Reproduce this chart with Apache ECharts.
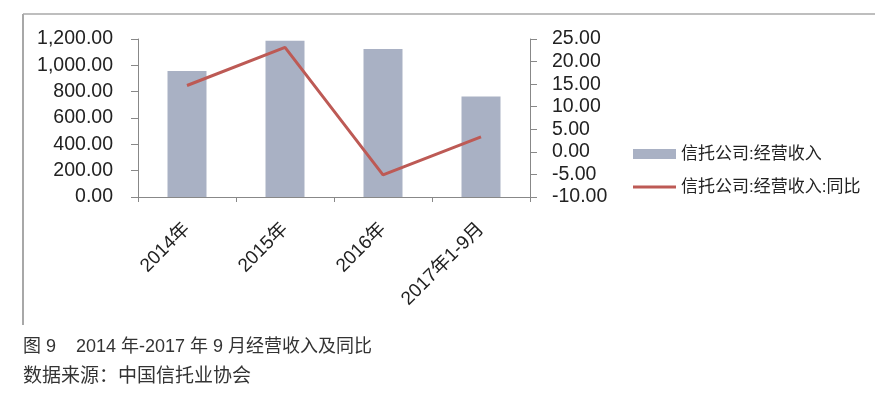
<!DOCTYPE html>
<html>
<head>
<meta charset="utf-8">
<script src="https://cdn.jsdelivr.net/npm/echarts@6/dist/echarts.min.js"></script>
<style>
html,body{margin:0;padding:0;background:#fff;}
#c{width:875px;height:414px;}
</style>
</head>
<body>
<div id="c"></div>
<script>
var categories = ['2014年', '2015年', '2016年', '2017年1-9月'];
var revenue = [957, 1187, 1124, 764];
var growth = [14.7, 23.15, -5.1, 3.3];
var leftTicks = { min: 0, max: 1200, interval: 200 };
var rightTicks = { min: -10, max: 25, interval: 5 };
var seriesNames = ['信托公司:经营收入', '信托公司:经营收入:同比'];
var captionLine1 = '图 9    2014 年-2017 年 9 月经营收入及同比';
var captionLine2 = '数据来源：中国信托业协会';

var FONT = '"Liberation Sans", "Noto Sans CJK SC", sans-serif';
var legendText = { fontSize: 17, color: '#222', fontFamily: FONT, lineHeight: 20 };
var chart = echarts.init(document.getElementById('c'), null, { renderer: 'canvas' });
chart.setOption({
  animation: false,
  backgroundColor: '#ffffff',
  grid: { left: 138, right: 345, top: 39, height: 158 },
  legend: [
    {
      orient: 'vertical', left: 628, top: 139,
      itemWidth: 43, itemHeight: 10,
      textStyle: legendText,
      data: [{ name: seriesNames[0], icon: 'rect' }]
    },
    {
      orient: 'vertical', left: 628, top: 172,
      itemWidth: 43, itemHeight: 3,
      textStyle: legendText,
      data: [{ name: seriesNames[1], icon: 'rect', itemStyle: { color: '#bd5a55' } }]
    }
  ],
  xAxis: {
    type: 'category',
    data: categories,
    boundaryGap: true,
    axisLine: { show: true, lineStyle: { color: '#888', width: 1 } },
    axisTick: { show: true, alignWithLabel: false, length: 5, lineStyle: { color: '#888' } },
    axisLabel: { rotate: 45, margin: 29, fontSize: 19, color: '#222', fontFamily: FONT, interval: 0 },
    splitLine: { show: false }
  },
  yAxis: [
    {
      type: 'value',
      min: leftTicks.min, max: leftTicks.max, interval: leftTicks.interval,
      position: 'left',
      axisLine: { show: true, lineStyle: { color: '#888', width: 1 } },
      axisTick: { show: true, inside: false, length: 7, lineStyle: { color: '#888' } },
      axisLabel: {
        margin: 25, fontSize: 19.5, color: '#222', fontFamily: FONT,
        formatter: function (v) { return v.toLocaleString('en-US', { minimumFractionDigits: 2, maximumFractionDigits: 2 }); }
      },
      splitLine: { show: false }
    },
    {
      type: 'value',
      min: rightTicks.min, max: rightTicks.max, interval: rightTicks.interval,
      position: 'right',
      axisLine: { show: true, lineStyle: { color: '#888', width: 1 } },
      axisTick: { show: true, inside: false, length: 7, lineStyle: { color: '#888' } },
      axisLabel: {
        margin: 22, fontSize: 19.5, color: '#222', fontFamily: FONT,
        formatter: function (v) { return v.toFixed(2); }
      },
      splitLine: { show: false }
    }
  ],
  series: [
    {
      name: seriesNames[0],
      type: 'bar',
      yAxisIndex: 0,
      data: revenue,
      barWidth: 39,
      itemStyle: { color: '#a9b1c4' }
    },
    {
      name: seriesNames[1],
      type: 'line',
      yAxisIndex: 1,
      data: growth,
      symbol: 'none',
      lineStyle: { color: '#bd5a55', width: 3 },
      itemStyle: { color: '#bd5a55' }
    }
  ],
  graphic: [
    { type: 'line', shape: { x1: 23, y1: 14, x2: 875, y2: 14 }, style: { stroke: '#a8a8a8', lineWidth: 1.5 } },
    { type: 'line', shape: { x1: 23, y1: 14, x2: 23, y2: 325 }, style: { stroke: '#a8a8a8', lineWidth: 2 } },
    { type: 'text', left: 23, top: 338, style: { text: captionLine1, fontSize: 18, fill: '#333', fontFamily: FONT } },
    { type: 'text', left: 23, top: 367, style: { text: captionLine2, fontSize: 19, fill: '#333', fontFamily: FONT } }
  ]
});
</script>
</body>
</html>
